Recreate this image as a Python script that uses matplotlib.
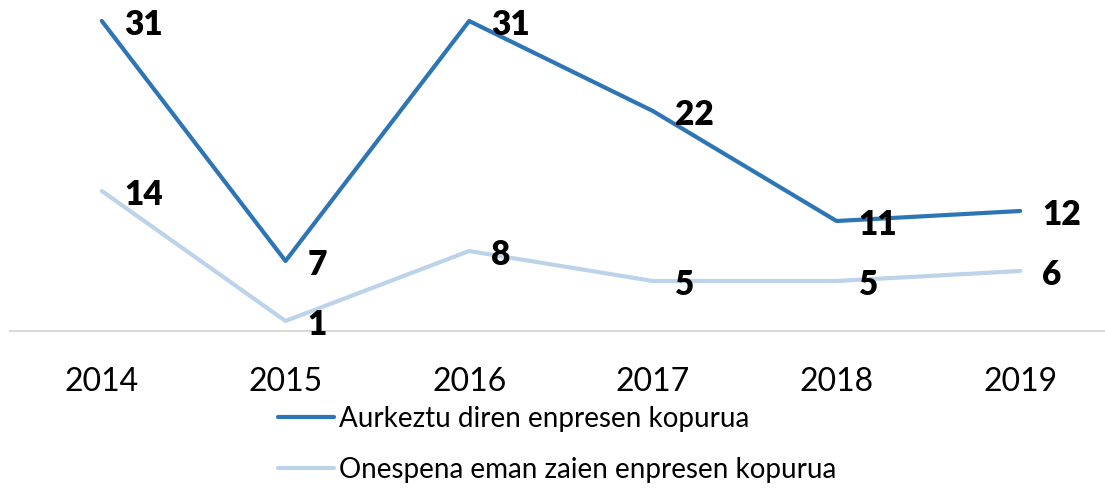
import matplotlib.pyplot as plt

# data
years = ['2014', '2015', '2016', '2017', '2018', '2019']
aurkeztu = [31, 7, 31, 22, 11, 12]
onespena = [14, 1, 8, 5, 5, 6]
labels = ['Aurkeztu diren enpresen kopurua', 'Onespena eman zaien enpresen kopurua']

plt.rcParams['font.family'] = ['Lato', 'DejaVu Sans']

fig = plt.figure(figsize=(11.05, 4.9), dpi=100)
ax = fig.add_axes([10 / 1105, 159 / 490, 1102 / 1105, 325 / 490])

x = range(len(years))
ax.plot(x, aurkeztu, color='#2E75B6', lw=3, label=labels[0], solid_capstyle='round')
ax.plot(x, onespena, color='#BDD3E9', lw=3, label=labels[1], solid_capstyle='round')

# data labels
for series in (aurkeztu, onespena):
    for i, v in enumerate(series):
        ax.annotate(str(v), (i, v), xytext=(16, -3), textcoords='offset points',
                    ha='left', va='center', fontsize=24, fontweight='heavy', color='black')

ax.set_xlim(-0.5, 5.5)
ax.set_ylim(0, 32.5)
ax.set_xticks(list(x))
ax.set_xticklabels(years, fontsize=23)
ax.tick_params(axis='x', length=0, pad=26)
ax.set_yticks([])
for s in ('top', 'right', 'left'):
    ax.spines[s].set_visible(False)
ax.spines['bottom'].set_color('#D9D9D9')
ax.spines['bottom'].set_linewidth(1.5)

fig.legend(loc='upper left', bbox_to_anchor=(278 / 1105, 84 / 490), ncol=1, frameon=False,
           fontsize=20, handlelength=2.0, handletextpad=0.2, labelspacing=0.9,
           borderaxespad=0, borderpad=0)

plt.savefig('out.png', dpi=100)
